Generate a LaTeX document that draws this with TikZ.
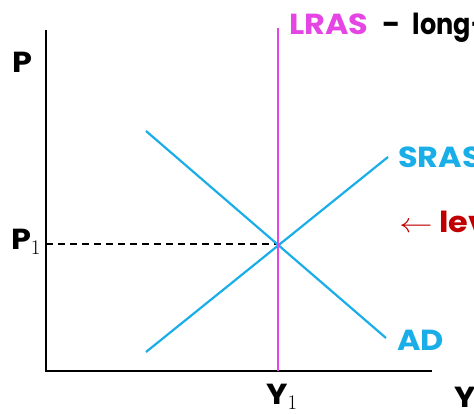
\documentclass[tikz,border=0pt]{standalone}
\usepackage{fontspec}
\setmainfont{Poppins}[FakeStretch=1.1]
\usepackage{tikz}
\usetikzlibrary{positioning}
\definecolor{curveblue}{HTML}{1AAEE8}
\definecolor{lrasmag}{HTML}{E445E4}
\definecolor{notered}{HTML}{C00000}

\begin{document}
\begin{tikzpicture}[
    x=1pt, y=-1pt,
    axis/.style={line width=2.6pt, black},
    curve/.style={line width=2.2pt, curveblue},
    lras/.style={line width=2pt, lrasmag},
    guide/.style={line width=1.8pt, dashed, dash pattern=on 7pt off 5pt},
    lbl/.style={font=\bfseries\fontsize{29}{30}\selectfont, inner sep=0pt}
]
\useasboundingbox (0,0) rectangle (474,414);
\clip (0,0) rectangle (474,414);

\coordinate (ytop) at (46,30);
\coordinate (origin) at (46,371);
\coordinate (xend) at (432,371);
\coordinate (lrastop) at (278,28);
\coordinate (lrasbot) at (278,371);
\coordinate (adstart) at (146,131);
\coordinate (adend) at (386,338);
\coordinate (srasstart) at (146,352);
\coordinate (srasend) at (388,157);
\coordinate (eq) at (278,244);
\coordinate (peq) at (46,244);

\draw[axis] (ytop) -- (origin) -- (xend);
\draw[guide] (peq) -- (eq);
\draw[curve] (adstart) -- (adend);
\draw[curve] (srasstart) -- (srasend);
\draw[lras] (lrastop) -- (lrasbot);

\node[lbl] (plabel) at (22,62) {P};
\node[lbl] (p1label) at (26,242) {P$_1$};
\node[lbl] (y1label) at (282,397) {Y$_1$};
\node[lbl, anchor=west] (ylabel) at (454,397) {Y};
\node[lbl, anchor=west] (lraslabel) at (289,28)
    {\textcolor{lrasmag}{LRAS}\hspace{14pt}-\hspace{12pt}\scalebox{0.8}[1]{long-}};
\node[lbl, anchor=west, curveblue] (sraslabel) at (398,157) {SRAS};
\node[lbl, anchor=west, notered] (levlabel) at (399,222) {\scalebox{1.35}[1.1]{$\leftarrow$} lev};
\node[lbl, anchor=west, curveblue] (adlabel) at (397,340) {AD};

\end{tikzpicture}
\end{document}
